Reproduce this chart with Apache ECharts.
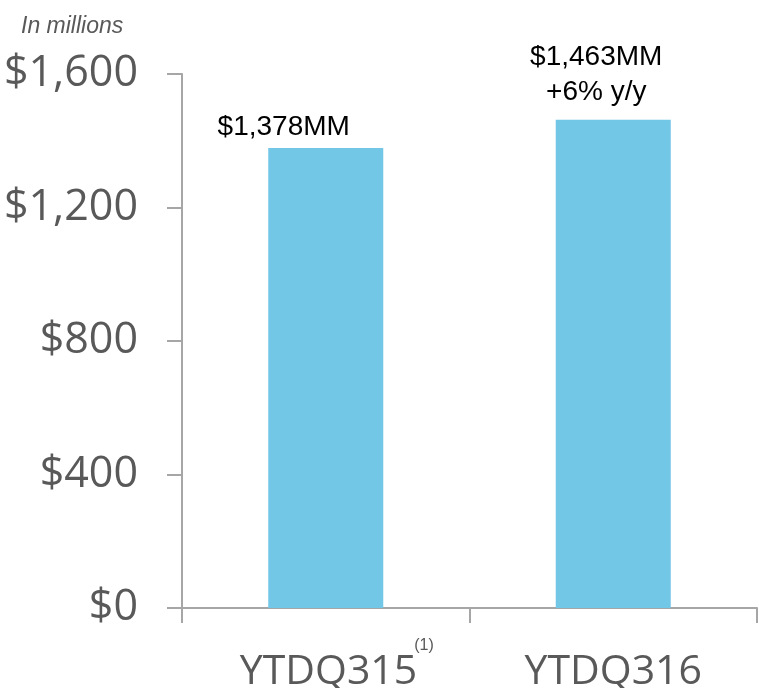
<!DOCTYPE html>
<html>
<head>
<meta charset="utf-8">
<script src="https://cdn.jsdelivr.net/npm/echarts@6/dist/echarts.min.js"></script>
<style>
  html, body { margin: 0; padding: 0; background: #ffffff; }
  #chart { width: 759px; height: 688px; }
</style>
</head>
<body>
<div id="chart"></div>
<script>
// Year-to-date Q3 revenue, in millions of dollars
const categories = ['YTDQ315', 'YTDQ316'];
const footnotes = ['(1)', ''];
const revenue = [1378, 1463];
const yTicks = [0, 400, 800, 1200, 1600];

const GRAY = '#595959';
const AXIS = '#a6a6a6';
const BAR = '#72c6e6';

function money(v) {
  return '$' + v.toLocaleString('en-US');
}

// Bar value labels, with the year-over-year change on the latest bar
const labelOffsets = [[-42, 3], [-17, -4]];
const barData = revenue.map(function (v, i) {
  let text = money(v) + 'MM';
  if (i > 0) {
    const pct = Math.round((v / revenue[i - 1] - 1) * 100);
    text += '\n+' + pct + '% y/y';
  }
  return {
    value: v,
    label: { formatter: text, offset: labelOffsets[i] }
  };
});

const chart = echarts.init(document.getElementById('chart'), null, { renderer: 'canvas' });

chart.setOption({
  animation: false,
  backgroundColor: '#ffffff',
  title: {
    text: 'In millions',
    left: 16,
    top: 10,
    textStyle: {
      fontFamily: 'Liberation Sans, Arial, sans-serif',
      fontStyle: 'italic',
      fontWeight: 'normal',
      fontSize: 23,
      color: GRAY
    }
  },
  grid: { left: 182, right: 2, top: 74, bottom: 80, outerBoundsMode: 'none' },
  xAxis: {
    type: 'category',
    data: categories,
    axisLine: { lineStyle: { color: AXIS, width: 2 } },
    axisTick: { show: true, length: 15, lineStyle: { color: AXIS, width: 2 } },
    axisLabel: {
      margin: 30,
      formatter: function (name, idx) {
        const note = footnotes[idx];
        if (note) return '{pad| }{main|' + name + '}{sup|' + note + '}';
        return '{main|' + name + '}';
      },
      rich: {
        main: {
          fontFamily: 'Open Sans, sans-serif',
          fontSize: 41,
          color: GRAY,
          verticalAlign: 'bottom',
          padding: [14, 0, 0, 0]
        },
        pad: { width: 22, fontSize: 16 },
        sup: {
          fontFamily: 'Liberation Sans, Arial, sans-serif',
          fontSize: 16,
          color: GRAY,
          verticalAlign: 'top',
          padding: [0, 0, 0, -3]
        }
      }
    }
  },
  yAxis: {
    type: 'value',
    min: yTicks[0],
    max: yTicks[yTicks.length - 1],
    interval: yTicks[1] - yTicks[0],
    splitLine: { show: false },
    axisLine: { show: true, lineStyle: { color: AXIS, width: 2 } },
    axisTick: { show: true, length: 15, lineStyle: { color: AXIS, width: 2 } },
    axisLabel: {
      margin: 44,
      fontFamily: 'Open Sans, sans-serif',
      fontSize: 43,
      color: GRAY,
      formatter: function (v) { return money(v); }
    }
  },
  series: [{
    type: 'bar',
    data: barData,
    barWidth: '40%',
    itemStyle: { color: BAR },
    label: {
      show: true,
      position: 'top',
      distance: 6,
      fontFamily: 'Liberation Sans, Arial, sans-serif',
      fontSize: 28,
      lineHeight: 35,
      color: '#000000'
    }
  }]
});
</script>
</body>
</html>
